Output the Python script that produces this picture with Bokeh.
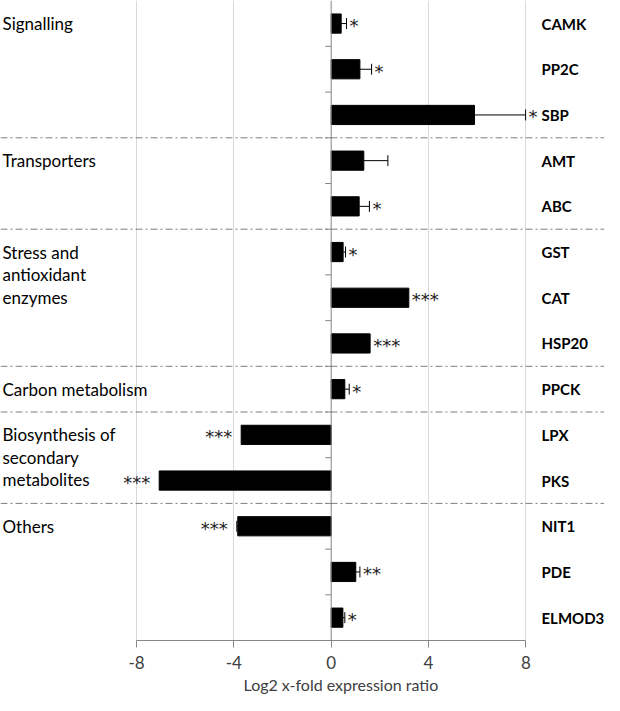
import numpy as np
from bokeh.plotting import figure
from bokeh.models import Range1d, FixedTicker, Span, Title
from bokeh.core.properties import value
from bokeh.embed import file_html
from bokeh.resources import INLINE

# ---- data ----
genes = ["CAMK", "PP2C", "SBP", "AMT", "ABC", "GST", "CAT", "HSP20", "PPCK",
         "LPX", "PKS", "NIT1", "PDE", "ELMOD3"]
ratios = [0.41, 1.18, 5.89, 1.34, 1.15, 0.49, 3.19, 1.60, 0.56,
          -3.70, -7.07, -3.84, 1.01, 0.48]
errors = [0.22, 0.48, 2.10, 0.99, 0.42, 0.10, 0.0, 0.0, 0.18,
          0.0, 0.0, 0.04, 0.17, 0.08]
stars = ["*", "*", "*", "", "*", "*", "***", "***", "*",
         "***", "***", "***", "**", "*"]
groups = ["Signalling", "Transporters", "Stress and\nantioxidant\nenzymes",
          "Carbon metabolism", "Biosynthesis of\nsecondary\nmetabolites", "Others"]
group_first = [0, 3, 5, 8, 9, 11]
x_ticks = [-8, -4, 0, 4, 8]
x_tick_labels = ["-8", "-4", "0", "4", "8"]
x_title = "Log2 x-fold expression ratio"

# ---- layout ----
W, H = 604, 695
frame_h = 640
bottom_border = H - frame_h
row_px = 45.7
n = len(genes)
ys = [n - 1 - i for i in range(n)]
y_top = -0.5 + frame_h / row_px
px_per_unit = 24.33
x0_px = 330.7  # position of x=0 inside the frame
x_start = -x0_px / px_per_unit
x_end = (W - x0_px) / px_per_unit

FONT = "Lato"
GRAY = "#868686"

p = figure(width=W, height=H, output_backend="svg", toolbar_location=None,
           x_range=Range1d(x_start, x_end), y_range=Range1d(-0.5, y_top),
           min_border_left=0, min_border_right=0, min_border_top=0,
           min_border_bottom=bottom_border)
p.outline_line_color = None
p.background_fill_color = "white"
p.border_fill_color = "white"

# grid
p.ygrid.visible = False
p.xgrid.ticker = FixedTicker(ticks=[t for t in x_ticks if t != 0])
p.xgrid.grid_line_color = "#d9d9d9"
p.xgrid.grid_line_width = 1

# axes
p.yaxis.visible = False
ax = p.xaxis[0]
ax.ticker = FixedTicker(ticks=x_ticks)
ax.major_label_overrides = {t: s for t, s in zip(x_ticks, x_tick_labels)}
ax.bounds = (min(x_ticks), max(x_ticks))
ax.axis_line_color = GRAY
ax.major_tick_line_color = GRAY
ax.major_tick_in = 0
ax.major_tick_out = 7
ax.minor_tick_line_color = None
ax.major_label_text_font = FONT
ax.major_label_text_font_size = "17px"
ax.major_label_text_color = "#404040"
ax.major_label_standoff = 8

# axis title, offset like the reference (not centred on the frame)
t = Title(text=x_title, align="left", offset=243, text_font=FONT,
          text_font_size="16px", text_font_style="normal", text_color="#404040",
          standoff=2)
p.add_layout(t, "below")

# vertical axis line at 0
p.add_layout(Span(location=0, dimension="height", line_color=GRAY, line_width=1))

# y ticks at row boundaries
bnds = [k + 0.5 for k in range(n - 1)]
p.segment(x0=[-6 / px_per_unit] * len(bnds), x1=[0] * len(bnds), y0=bnds, y1=bnds,
          line_color=GRAY, line_width=1)

# group separators
for gi in group_first[1:]:
    yb = ys[gi] + 0.5
    p.add_layout(Span(location=yb, dimension="width", line_color="#7f7f7f",
                      line_width=1, line_dash="7 3 2 3"))

# bars
p.hbar(y=ys, left=0, right=ratios, height=0.42,
       fill_color="black", line_color="black")

# error bars
ends = [v + np.sign(v) * e for v, e in zip(ratios, errors)]
eb = [(v, en, y) for v, en, y, e in zip(ratios, ends, ys, errors) if e > 0]
p.segment(x0=[a for a, b, c in eb], x1=[b for a, b, c in eb],
          y0=[c for a, b, c in eb], y1=[c for a, b, c in eb],
          line_color="black", line_width=1)
p.segment(x0=[b for a, b, c in eb], x1=[b for a, b, c in eb],
          y0=[c - 0.12 for a, b, c in eb], y1=[c + 0.12 for a, b, c in eb],
          line_color="black", line_width=1)

# significance stars
pos = [(en, y, s) for en, y, s, v in zip(ends, ys, stars, ratios) if s and v > 0]
neg = [(en, y, s) for en, y, s, v in zip(ends, ys, stars, ratios) if s and v < 0]
star_style = dict(text_baseline="middle", text_font=value("DejaVu Sans"),
                  text_font_size="18px", text_color="#222222", y_offset=2)
p.text(x=[a for a, b, c in pos], y=[b for a, b, c in pos], text=[c for a, b, c in pos],
       x_offset=3, text_align="left", **star_style)
p.text(x=[a for a, b, c in neg], y=[b for a, b, c in neg], text=[c for a, b, c in neg],
       x_offset=-9, text_align="right", **star_style)

# gene labels
p.text(x=[(541 - x0_px) / px_per_unit] * n, y=ys, text=genes,
       text_align="left", text_baseline="middle", text_font=value(FONT),
       text_font_size="15px", text_font_style="bold", text_color="black")

# group labels (line by line)
gx, gy, gt = [], [], []
for lab, gi in zip(groups, group_first):
    for k, line in enumerate(lab.split("\n")):
        gx.append(x_start)
        gy.append(ys[gi] - k * 22.5 / row_px)
        gt.append(line)
p.text(x=gx, y=gy, text=gt, x_offset=2, text_align="left", text_baseline="middle",
       text_font=value(FONT), text_font_size="17px", text_color="black")

open("out.html", "w").write(file_html(p, INLINE))
